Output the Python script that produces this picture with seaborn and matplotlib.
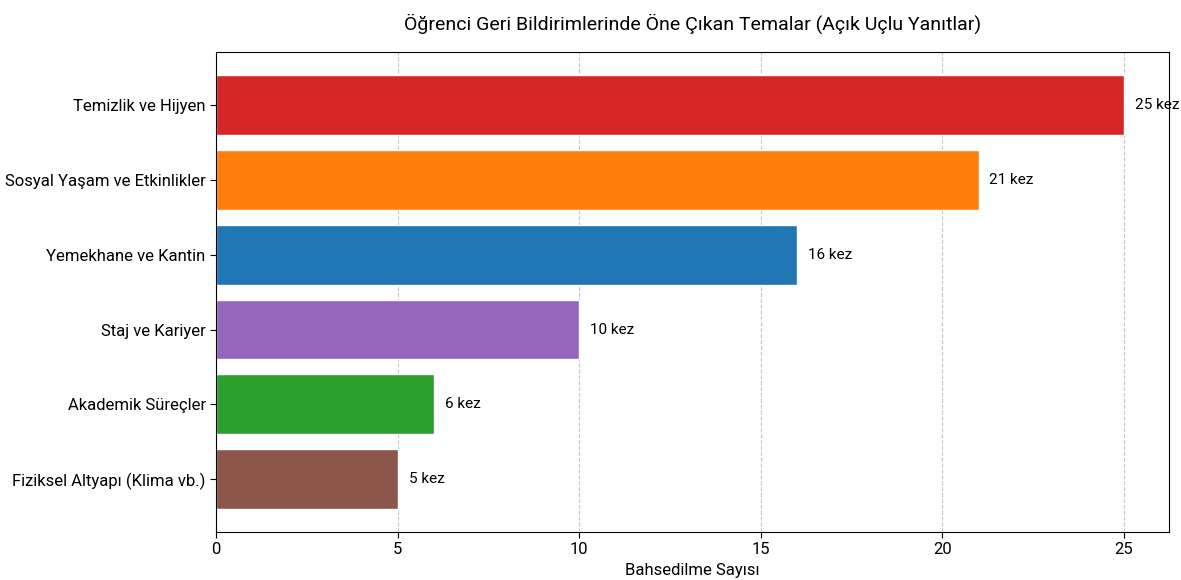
import pandas as pd
import seaborn as sns
import matplotlib.pyplot as plt

temalar = ["Temizlik ve Hijyen", "Sosyal Yaşam ve Etkinlikler", "Yemekhane ve Kantin",
           "Staj ve Kariyer", "Akademik Süreçler", "Fiziksel Altyapı (Klima vb.)"]
sayilar = [25, 21, 16, 10, 6, 5]
renkler = ["#d62728", "#ff7f0e", "#1f77b4", "#9467bd", "#2ca02c", "#8c564b"]

df = pd.DataFrame({"Tema": temalar, "Sayi": sayilar})

sns.set_style("white")
plt.rcParams['font.family'] = ['Roboto', 'DejaVu Sans']
plt.rcParams['text.color'] = 'black'
plt.rcParams['axes.labelcolor'] = 'black'
plt.rcParams['xtick.color'] = 'black'
plt.rcParams['ytick.color'] = 'black'

fig = plt.figure(figsize=(11.81, 5.8), dpi=100)
ax = fig.add_axes([0.183, 0.083, 0.807, 0.827])
sns.barplot(data=df, x="Sayi", y="Tema", hue="Tema", palette=dict(zip(temalar, renkler)),
            orient="h", width=0.8, saturation=1, legend=False, ax=ax)

for i, v in enumerate(sayilar):
    ax.text(v + 0.3, i, f"{v} kez", va="center", fontsize=11)

ax.set_xlim(0, 26.25)
ax.set_ylim(5.5 + 0.2, -0.5 - 0.2)
ax.xaxis.grid(True, linestyle="--", color="#b0b0b0", alpha=0.7)
ax.set_axisbelow(True)
for s in ax.spines.values():
    s.set_color("black")
    s.set_linewidth(0.8)
ax.tick_params(axis="both", labelsize=12, length=4, left=True, bottom=True)
ax.set_xlabel("Bahsedilme Sayısı", fontsize=12)
ax.set_ylabel("")
ax.set_title("Öğrenci Geri Bildirimlerinde Öne Çıkan Temalar (Açık Uçlu Yanıtlar)", fontsize=14, pad=16)

fig.savefig("out.png", dpi=100)
